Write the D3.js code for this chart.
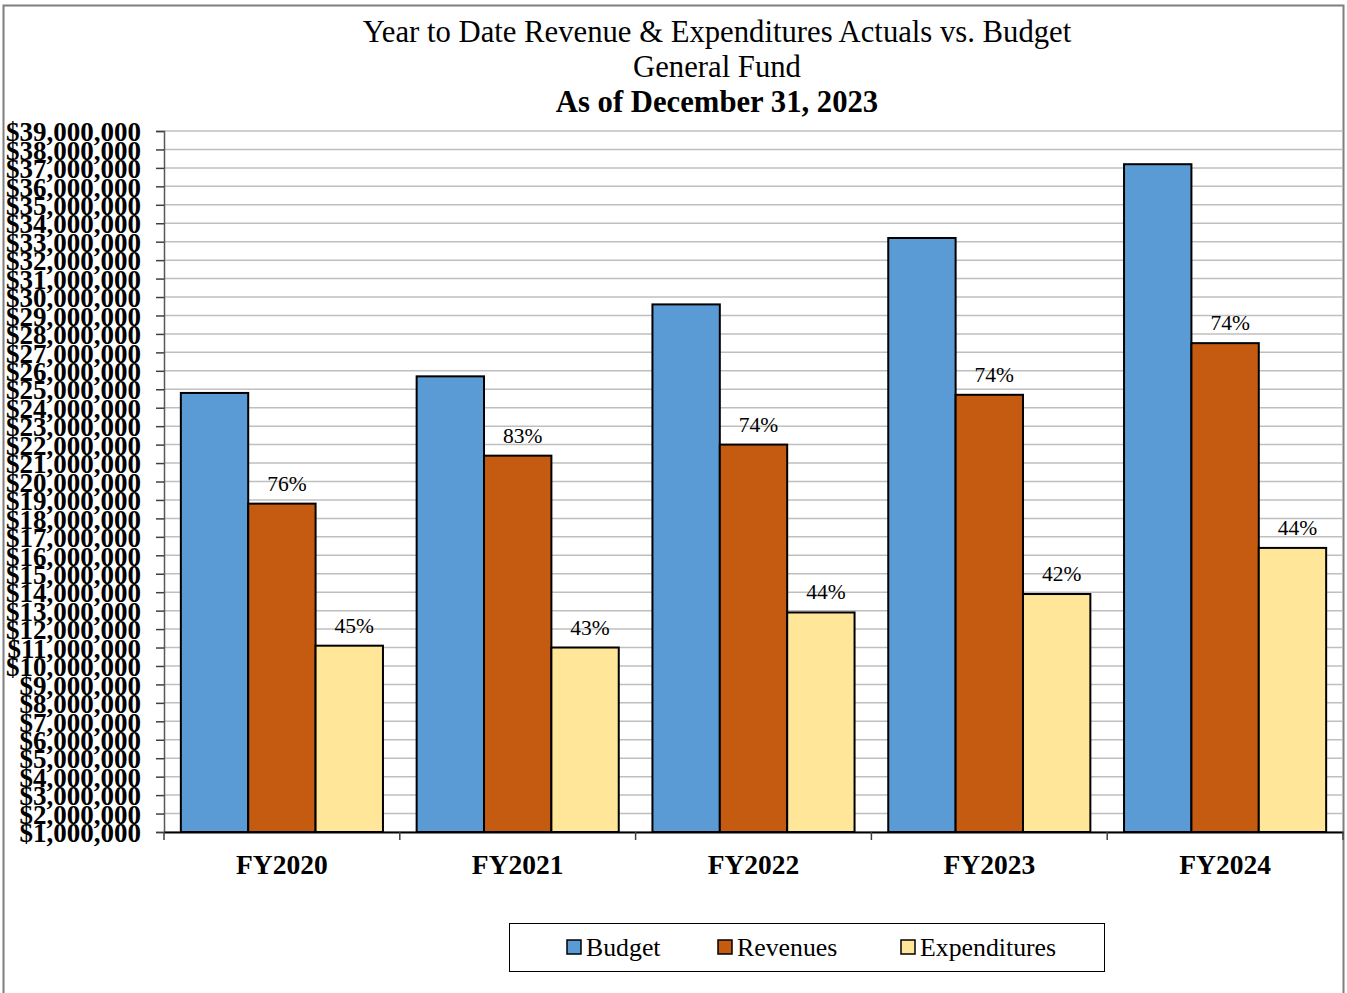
<!DOCTYPE html>
<html>
<head>
<meta charset="utf-8">
<script src="https://d3js.org/d3.v7.min.js"></script>
<style>
  body { margin: 0; background: #fff; }
  text { font-family: "Liberation Serif", "Times New Roman", serif; }
</style>
</head>
<body>
<svg id="chart" width="1347" height="993"></svg>
<script>
var svg = d3.select("#chart");
var width = +svg.attr("width"),
    height = +svg.attr("height");

// data
var years = ["FY2020", "FY2021", "FY2022", "FY2023", "FY2024"];
var series = ["Budget", "Revenues", "Expenditures"];
var budget = [24800000, 25700000, 29600000, 33200000, 37200000];
var revenues = [18800000, 21400000, 22000000, 24700000, 27500000];
var expenditures = [11100000, 11000000, 12900000, 13900000, 16400000];
var yTicks = d3.range(1000000, 39000001, 1000000);

var colors = {Budget: "#5B9BD5", Revenues: "#C55A11", Expenditures: "#FFE699"};

var rows = years.map(function(y, i) {
  return {year: y, Budget: budget[i], Revenues: revenues[i], Expenditures: expenditures[i]};
});

var margin = {left: 164, right: 1343, top: 131, bottom: 832};

// outer frame
svg.append("path")
  .attr("d", "M3.5,993 V5.5 H1343.5 V993")
  .attr("fill", "none")
  .attr("stroke", "#7f7f7f")
  .attr("stroke-width", 2);

// title
var title = svg.append("text")
  .attr("text-anchor", "middle")
  .style("font-size", "30.7px");
title.append("tspan").attr("x", 717).attr("y", 42).text("Year to Date Revenue & Expenditures Actuals vs. Budget");
title.append("tspan").attr("x", 717).attr("y", 77).text("General Fund");
title.append("tspan").attr("x", 717).attr("y", 112).style("font-weight", "bold").text("As of December 31, 2023");

// scales
var x0 = d3.scaleBand()
  .domain(years)
  .range([margin.left, margin.right])
  .paddingInner(0)
  .paddingOuter(0);

var x1 = d3.scaleBand()
  .domain(series)
  .range([0, x0.bandwidth()])
  .paddingOuter(0.25);

var y = d3.scaleLinear()
  .domain([1000000, 39000000])
  .range([margin.bottom, margin.top]);

// gridlines
svg.append("g")
  .selectAll("line")
  .data(yTicks)
  .enter()
  .append("line")
    .attr("x1", margin.left)
    .attr("x2", margin.right)
    .attr("y1", d => y(d))
    .attr("y2", d => y(d))
    .attr("stroke", "#bfbfbf")
    .attr("stroke-width", 1.5);

// y axis
var yAxis = svg.append("g")
  .attr("transform", "translate(" + margin.left + ",0)")
  .call(d3.axisLeft(y).tickValues(yTicks).tickSize(8).tickPadding(15)
    .tickFormat(d => "$" + d3.format(",")(d)));
yAxis.select(".domain").attr("stroke", "#595959").attr("stroke-width", 1.5);
yAxis.selectAll(".tick line").attr("stroke", "#404040").attr("stroke-width", 1.5);
yAxis.selectAll(".tick text")
  .attr("fill", "#000")
  .style("font-size", "27px")
  .style("font-weight", "bold")
  .style("font-family", "Liberation Serif, Times New Roman, serif")
  .attr("dy", "0.36em");

// bars
var groups = svg.append("g")
  .selectAll("g")
  .data(rows)
  .enter()
  .append("g")
    .attr("transform", d => "translate(" + x0(d.year) + ",0)");

groups.selectAll("rect")
  .data(d => series.map(s => ({key: s, value: d[s], budget: d.Budget})))
  .enter()
  .append("rect")
    .attr("x", d => x1(d.key))
    .attr("width", x1.bandwidth())
    .attr("y", d => y(d.value))
    .attr("height", d => y(1000000) - y(d.value))
    .attr("fill", d => colors[d.key])
    .attr("stroke", "#000")
    .attr("stroke-width", 2);

// percent labels
groups.selectAll("text.pct")
  .data(d => series.slice(1).map(s => ({key: s, value: d[s], budget: d.Budget})))
  .enter()
  .append("text")
    .attr("class", "pct")
    .attr("x", d => x1(d.key) + x1.bandwidth() / 2 + 5)
    .attr("y", d => y(d.value) - 13)
    .attr("text-anchor", "middle")
    .style("font-size", "21.5px")
    .text(d => Math.round(d.value / d.budget * 100) + "%");

// x axis
var xAxis = svg.append("g")
  .attr("transform", "translate(0," + margin.bottom + ")")
  .call(d3.axisBottom(x0).tickSize(0).tickPadding(22));
xAxis.select(".domain").attr("stroke", "#000").attr("stroke-width", 2);
xAxis.selectAll(".tick text")
  .attr("fill", "#000")
  .style("font-size", "27.5px")
  .style("font-weight", "bold")
  .style("font-family", "Liberation Serif, Times New Roman, serif");

// category separator ticks
svg.append("g")
  .selectAll("line")
  .data(years.concat(["end"]))
  .enter()
  .append("line")
    .attr("x1", (d, i) => margin.left + i * x0.bandwidth())
    .attr("x2", (d, i) => margin.left + i * x0.bandwidth())
    .attr("y1", margin.bottom)
    .attr("y2", margin.bottom + 8)
    .attr("stroke", "#404040")
    .attr("stroke-width", 1.5);

// legend
var legend = svg.append("g");
legend.append("rect")
  .attr("x", 509.5).attr("y", 923.5)
  .attr("width", 595).attr("height", 48)
  .attr("fill", "#fff")
  .attr("stroke", "#000")
  .attr("stroke-width", 1);

var legendX = [567, 718, 901];
var items = legend.selectAll("g.item")
  .data(series)
  .enter()
  .append("g")
    .attr("transform", (d, i) => "translate(" + legendX[i] + ",940)");
items.append("rect")
  .attr("width", 14).attr("height", 14)
  .attr("fill", d => colors[d])
  .attr("stroke", "#000")
  .attr("stroke-width", 1.5);
items.append("text")
  .attr("x", 19)
  .attr("y", 16)
  .style("font-size", "25.8px")
  .text(d => d);
</script>
</body>
</html>
